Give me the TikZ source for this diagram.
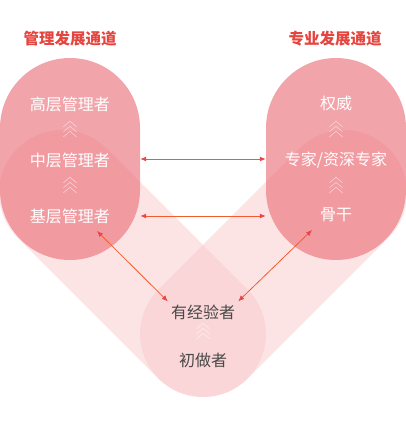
\documentclass[tikz,border=0pt]{standalone}
\usepackage{fontspec}
\usepackage{xcolor}
\usepackage{tikz}
\usetikzlibrary{arrows.meta,positioning}
\newfontfamily\cjk{Noto Sans CJK SC}
\definecolor{bandpink}{RGB}{249,199,201}
\definecolor{pillpink}{RGB}{236,119,129}
\definecolor{titlered}{RGB}{230,68,62}
\definecolor{linkred}{RGB}{242,92,44}
\definecolor{tipred}{RGB}{232,70,72}
\definecolor{ink}{RGB}{72,72,72}

\begin{document}
\begin{tikzpicture}[x=1pt,y=-1pt,
  band/.style={line width=126pt, line cap=round, draw=bandpink, draw opacity=0.48},
  pill/.style={rectangle, minimum width=140pt, minimum height=202pt, rounded corners=70pt,
    fill=pillpink, fill opacity=0.67, inner sep=0pt},
  title/.style={font=\cjk\bfseries\fontsize{15.5}{18}\selectfont, text=titlered},
  lvl/.style={font=\cjk\fontsize{16}{19}\selectfont, text=white, inner sep=3pt},
  base/.style={font=\cjk\fontsize{16}{19}\selectfont, text=ink, inner sep=3pt},
  link/.style={{Latex[length=6pt,width=5pt,color=tipred]}-{Latex[length=6pt,width=5pt,color=tipred]},
    draw=linkred, line width=1pt},
  chev/.style={draw=white, draw opacity=0.6, line width=0.5pt}]
  \useasboundingbox (0,0) rectangle (406,429);
  % V-shaped bands
  \draw[band] (62,193) -- (203,334);
  \draw[band] (344,193) -- (203,334);
  % the two channels
  \node[pill] (mgmt) at (70,159) {};
  \node[pill] (prof) at (336,159) {};
  % titles
  \node[title] (tmgmt) at (70,39) {管理发展通道};
  \node[title] (tprof) at (335,39) {专业发展通道};
  % management levels
  \node[lvl] (m1) at (70,104) {高层管理者};
  \node[lvl] (m2) at (70,160) {中层管理者};
  \node[lvl] (m3) at (70,216) {基层管理者};
  % professional levels
  \node[lvl] (p1) at (336,103) {权威};
  \node[lvl] (p2) at (336,160) {专家/资深专家};
  \node[lvl] (p3) at (336,215) {骨干};
  % common base
  \node[base] (b1) at (203,312) {有经验者};
  \node[base] (b0) at (203,360) {初做者};
  % chevrons
  \foreach \p in {(70,129),(70,185),(336,129),(336,185),(203,331)}
    \foreach \k in {-5,0,5}
      \draw[chev, shift={\p}] (-6.5,\k+2.75) -- (0,\k-2.75) -- (6.5,\k+2.75);
  % links
  \draw[link] (mgmt.east) -- (prof.west);
  \draw[link] (mgmt.east |- m3) -- (prof.west |- m3);
  \coordinate (mfoot) at (97,231);
  \coordinate (pfoot) at (312,230);
  \draw[link, line width=0.8pt] (mfoot) -- (b1.north west);
  \draw[link, line width=0.8pt] (pfoot) -- (b1.north east);
\end{tikzpicture}
\end{document}
